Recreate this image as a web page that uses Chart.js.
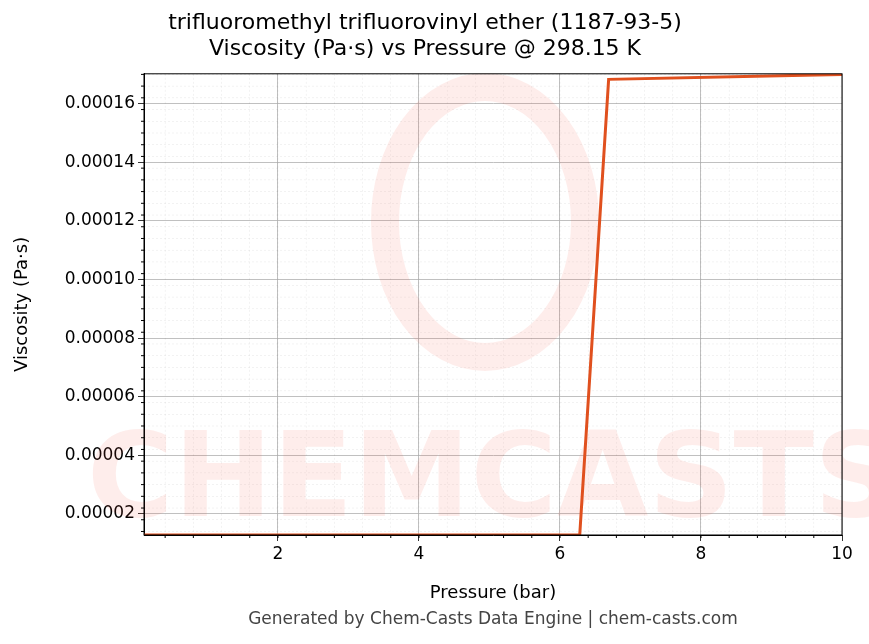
<!DOCTYPE html>
<html><head><meta charset="utf-8">
<script src="https://cdn.jsdelivr.net/npm/chart.js@4/dist/chart.umd.min.js"></script>
<style>body{margin:0;background:#fff}#w{width:869px;height:644px;position:relative}</style>
</head><body><div id="w"><canvas id="c" width="869" height="644"></canvas></div>
<script>
const pressure = [0.1, 6.28, 6.69, 10];
const viscosity = [0.0000128, 0.0000128, 0.0001683, 0.0001700];
const xTicks = [2, 4, 6, 8, 10];
const yTicks = [0.00002,0.00004,0.00006,0.00008,0.0001,0.00012,0.00014,0.00016];
const F = "'DejaVu Sans', sans-serif";
const extras = {
  id:'extras',
  beforeDatasetsDraw(ch){
    const {ctx, chartArea:a, scales:{x,y}} = ch;
    ctx.save();
    ctx.strokeStyle='rgba(0,0,0,0.1)'; ctx.lineWidth=0.5; ctx.setLineDash([2,2]);
    for(let v=0.4; v<10; v+=0.4){ const p=x.getPixelForValue(v); if(p>a.left&&p<a.right){ctx.beginPath();ctx.moveTo(p,a.top);ctx.lineTo(p,a.bottom);ctx.stroke();}}
    for(let v=0.000014; v<0.00017; v+=0.000004){ const p=y.getPixelForValue(v); if(p>a.top&&p<a.bottom){ctx.beginPath();ctx.moveTo(a.left,p);ctx.lineTo(a.right,p);ctx.stroke();}}
    ctx.setLineDash([]);
    ctx.fillStyle='rgba(250,80,60,0.1)';
    ctx.font="bold 118px "+F; ctx.textAlign='center'; ctx.textBaseline='middle';
    ctx.fillText('CHEMCASTS',(a.left+a.right)/2,485);
    ctx.strokeStyle='rgba(250,80,60,0.1)'; ctx.lineWidth=28;
    ctx.beginPath(); ctx.ellipse(485,222,100,135,0,0,Math.PI*2); ctx.stroke();
    ctx.restore();
  },
  afterDraw(ch){
    const {ctx, chartArea:a, scales:{x,y}} = ch;
    ctx.save(); ctx.strokeStyle='#000'; ctx.lineWidth=1;
    ctx.strokeRect(a.left,a.top,a.right-a.left,a.bottom-a.top);
    for(let v=0.4; v<10; v+=0.4){ const p=x.getPixelForValue(v); if(p>a.left){ctx.beginPath();ctx.moveTo(p,a.bottom);ctx.lineTo(p,a.bottom+3);ctx.stroke();}}
    for(let v=0.000014; v<0.00017; v+=0.000004){ const p=y.getPixelForValue(v); ctx.beginPath();ctx.moveTo(a.left,p);ctx.lineTo(a.left-3,p);ctx.stroke();}
    ctx.fillStyle='#444'; ctx.font="17px "+F; ctx.textAlign='center'; ctx.textBaseline='alphabetic';
    ctx.fillText('Generated by Chem-Casts Data Engine | chem-casts.com',493,624);
    ctx.restore();
  }
};
new Chart(document.getElementById('c'),{
  type:'line',
  data:{datasets:[{data:pressure.map((p,i)=>({x:p,y:viscosity[i]})),borderColor:'#e0501e',borderWidth:3,pointRadius:0,tension:0}]},
  options:{responsive:false,animation:false,
    layout:{padding:{left:8,right:27,top:0,bottom:36}},
    plugins:{legend:{display:false},tooltip:{enabled:false},
      title:{display:true,text:['trifluoromethyl trifluorovinyl ether (1187-93-5)','Viscosity (Pa·s) vs Pressure @ 298.15 K'],color:'#000',font:{family:F,size:22,weight:'normal',lineHeight:1.2},padding:{top:10,bottom:11}}},
    scales:{
      x:{type:'linear',min:0.1,max:10,
        afterBuildTicks(s){s.ticks=xTicks.map(v=>({value:v}));},
        afterFit(s){s.height=73;},
        ticks:{color:'#000',font:{family:F,size:17},maxRotation:0},
        grid:{color:'#b0b0b0',lineWidth:0.8,tickLength:6,tickColor:'#000'},border:{color:'#000'},
        title:{display:true,text:'Pressure (bar)',color:'#000',font:{family:F,size:18}}},
      y:{type:'linear',min:0.0000128,max:0.0001702,
        afterBuildTicks(s){s.ticks=yTicks.map(v=>({value:v}));},
        afterFit(s){s.width=136;},
        ticks:{color:'#000',font:{family:F,size:17},callback:v=>v.toFixed(5)},
        grid:{color:'#b0b0b0',lineWidth:0.8,tickLength:6,tickColor:'#000'},border:{color:'#000'},
        title:{display:true,text:'Viscosity (Pa·s)',color:'#000',font:{family:F,size:18}}}
    }},
  plugins:[extras]
});
</script></body></html>
